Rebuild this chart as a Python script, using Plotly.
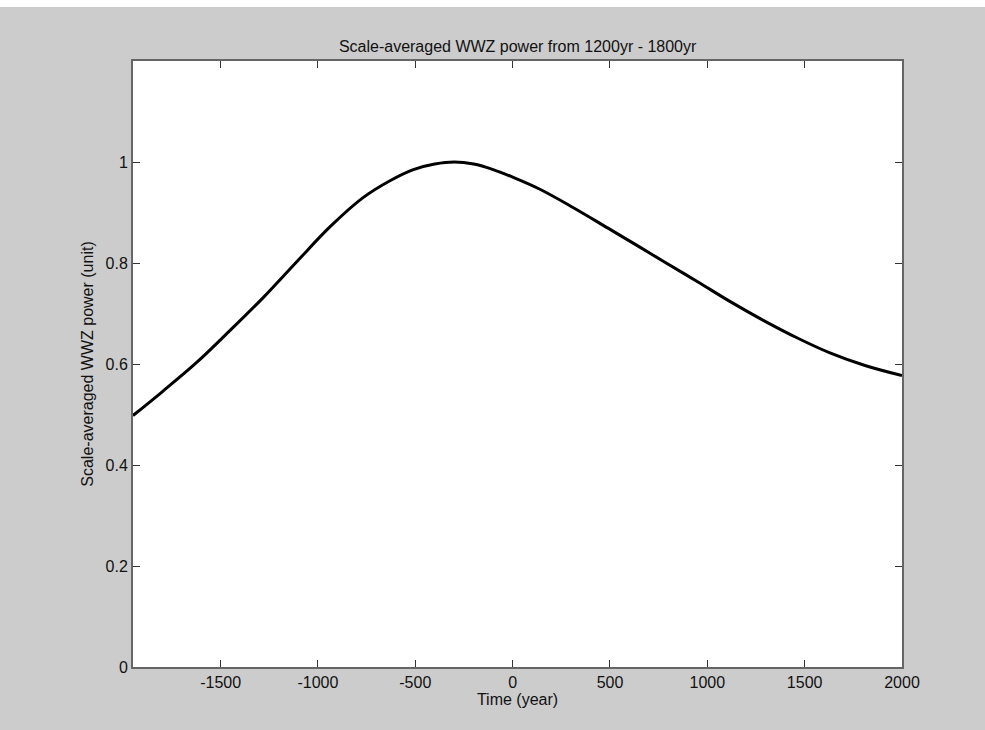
import plotly.graph_objects as go

years = [-1950, -1800, -1620, -1450, -1280, -1110, -940, -770, -630, -510, -400,
         -300, -200, -100, 0, 140, 310, 490, 660, 780, 950, 1120, 1290, 1460,
         1630, 1810, 2000]
power = [0.498, 0.545, 0.604, 0.667, 0.732, 0.802, 0.871, 0.929, 0.963, 0.985,
         0.996, 1.000, 0.996, 0.985, 0.970, 0.946, 0.910, 0.869, 0.830, 0.802,
         0.763, 0.723, 0.686, 0.652, 0.622, 0.597, 0.577]

x_ticks = [-1500, -1000, -500, 0, 500, 1000, 1500, 2000]
x_tick_labels = ["-1500", "-1000", "-500", "0", "500", "1000", "1500", "2000"]
y_ticks = [0, 0.2, 0.4, 0.6, 0.8, 1]
y_tick_labels = ["0", "0.2", "0.4", "0.6", "0.8", "1"]

title_text = "Scale-averaged WWZ power from 1200yr - 1800yr"
x_title = "Time (year)"
y_title = "Scale-averaged WWZ power (unit)"

fig = go.Figure()
fig.add_trace(go.Scatter(
    x=years, y=power, mode="lines",
    line=dict(color="black", width=3, shape="spline", smoothing=1.0),
    showlegend=False, hoverinfo="skip",
))

font = dict(family="Liberation Sans, Arial, sans-serif", size=16, color="#111111")

fig.update_layout(
    width=985, height=730,
    margin=dict(l=133, r=83, t=61, b=63),
    paper_bgcolor="#cccccc",
    plot_bgcolor="white",
    font=font,
    title=dict(text=title_text, x=0.5255, xanchor="center",
               y=1 - 46 / 730, yanchor="middle", font=font),
    xaxis=dict(
        range=[-1950, 2000], tickvals=x_ticks, ticktext=x_tick_labels,
        ticks="inside", ticklen=7,
        tickcolor="#333333", showgrid=False, zeroline=False,
        showline=True, linecolor="#666666", linewidth=2, mirror="ticks",
        title=dict(text=x_title, standoff=4, font=font),
    ),
    yaxis=dict(
        range=[0, 1.2], tickvals=y_ticks, ticktext=y_tick_labels,
        ticks="inside", ticklen=7, tickcolor="#333333",
        showgrid=False, zeroline=False,
        showline=True, linecolor="#666666", linewidth=2, mirror="ticks",
        title=dict(text=y_title, standoff=8, font=font),
    ),
    shapes=[dict(type="rect", xref="paper", yref="paper",
                 x0=-0.2, x1=1.2, y0=(667 - 7) / 606, y1=1.2,
                 fillcolor="white", line=dict(width=0), layer="below")],
)

fig.write_html("out.html",
               config={"displayModeBar": False},
               post_script="document.body.style.margin='0';"
                           "document.body.style.overflow='hidden';")
